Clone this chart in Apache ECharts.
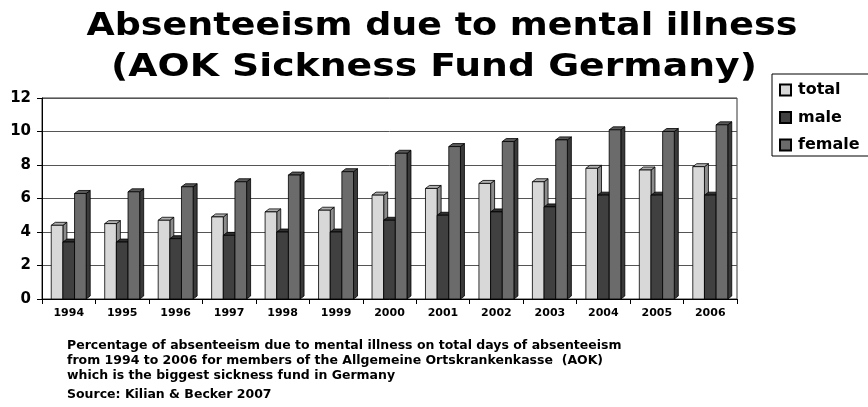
<!DOCTYPE html>
<html><head><meta charset="utf-8">
<script src="https://cdn.jsdelivr.net/npm/echarts@6/dist/echarts.min.js"></script>
<style>html,body{margin:0;padding:0;background:#fff}#c{width:868px;height:407px}</style>
</head><body><div id="c"></div>
<script>
const years = ['1994','1995','1996','1997','1998','1999','2000','2001','2002','2003','2004','2005','2006'];
const total  = [4.4, 4.5, 4.7, 4.9, 5.2, 5.3, 6.2, 6.6, 6.9, 7.0, 7.8, 7.7, 7.9];
const male   = [3.4, 3.4, 3.6, 3.8, 4.0, 4.0, 4.7, 5.0, 5.2, 5.5, 6.2, 6.2, 6.2];
const female = [6.3, 6.4, 6.7, 7.0, 7.4, 7.6, 8.7, 9.1, 9.4, 9.5, 10.1, 10.0, 10.4];
const yTicks = [0, 2, 4, 6, 8, 10, 12];

const faces = [
  {front:'#d8d8d8', top:'#b0b0b0', side:'#8c8c8c'},
  {front:'#404040', top:'#303030', side:'#2a2a2a'},
  {front:'#6b6b6b', top:'#5a5a5a', side:'#3a3a3a'}
];
function makeRender(k){
  return function(params, api){
    const cat = api.value(0), v = api.value(1);
    const p = api.coord([cat, v]);
    const p0 = api.coord([cat, 0]);
    const bw = api.size([1,0])[0];
    const w = bw*0.218;
    const x = p[0] - 1.5*w + k*w;
    const dx = 4, dy = 3;
    const f = faces[k];
    const ls = {stroke:'#000', lineWidth:0.8};
    return {type:'group', children:[
      {type:'polygon', shape:{points:[[x+w,p[1]],[x+w+dx,p[1]-dy],[x+w+dx,p0[1]-dy],[x+w,p0[1]]]}, style:Object.assign({fill:f.side}, ls)},
      {type:'polygon', shape:{points:[[x,p[1]],[x+dx,p[1]-dy],[x+w+dx,p[1]-dy],[x+w,p[1]]]}, style:Object.assign({fill:f.top}, ls)},
      {type:'rect', shape:{x:x, y:p[1], width:w, height:p0[1]-p[1]}, style:Object.assign({fill:f.front}, ls)}
    ]};
  };
}
function mk(name, arr, k){
  return {name:name, type:'custom', renderItem:makeRender(k),
    itemStyle:{color:faces[k].front, borderColor:'#000', borderWidth:1},
    encode:{x:0,y:1}, data:arr.map((v,i)=>[i,v])};
}
const chart = echarts.init(document.getElementById('c'), null, {renderer:'canvas'});
chart.setOption({
  animation:false,
  legend:{orient:'vertical', left:772, top:74, icon:'rect', itemWidth:11, itemHeight:11, itemGap:11.5,
    padding:[8,40,3,7], borderColor:'#000', borderWidth:1, backgroundColor:'#fff',
    textStyle:{fontFamily:'DejaVu Sans', fontWeight:'bold', fontSize:16, lineHeight:16, color:'#000', padding:[0,0,0,2]},
    data:['total','male','female']},
  grid:{left:42, right:131, top:98, bottom:108, show:true, borderColor:'#333', borderWidth:1},
  xAxis:{type:'category', data:years, boundaryGap:true,
    axisLine:{lineStyle:{color:'#000'}}, axisTick:{show:true, length:5, lineStyle:{color:'#000'}},
    axisLabel:{fontFamily:'DejaVu Sans', fontWeight:'bold', fontSize:11, color:'#000', margin:9}},
  yAxis:{type:'value', min:0, max:12, interval:2,
    axisLine:{show:true, lineStyle:{color:'#000'}}, axisTick:{show:true, length:5, lineStyle:{color:'#000'}},
    splitLine:{lineStyle:{color:'#555'}},
    axisLabel:{fontFamily:'DejaVu Sans', fontWeight:'bold', fontSize:15, color:'#000', margin:11,
      formatter:v=>yTicks.includes(v)?String(v):''}},
  series:[mk('total', total, 0), mk('male', male, 1), mk('female', female, 2)],
  graphic:[
    {type:'text', x:442, y:11, scaleX:1.14, style:{text:'Absenteeism due to mental illness', textAlign:'center', textVerticalAlign:'top',
      font:'bold 32px "DejaVu Sans"', fill:'#000'}},
    {type:'text', x:434, y:52, scaleX:1.18, style:{text:'(AOK Sickness Fund Germany)', textAlign:'center', textVerticalAlign:'top',
      font:'bold 32px "DejaVu Sans"', fill:'#000'}},
    {type:'text', left:67, top:338, style:{text:'Percentage of absenteeism due to mental illness on total days of absenteeism\nfrom 1994 to 2006 for members of the Allgemeine Ortskrankenkasse  (AOK)\nwhich is the biggest sickness fund in Germany',
      font:'bold 12.5px "DejaVu Sans"', lineHeight:15, fill:'#000'}},
    {type:'text', left:67, top:388, style:{text:'Source: Kilian & Becker 2007', font:'bold 12.5px "DejaVu Sans"', fill:'#000'}}
  ]
});
</script></body></html>
